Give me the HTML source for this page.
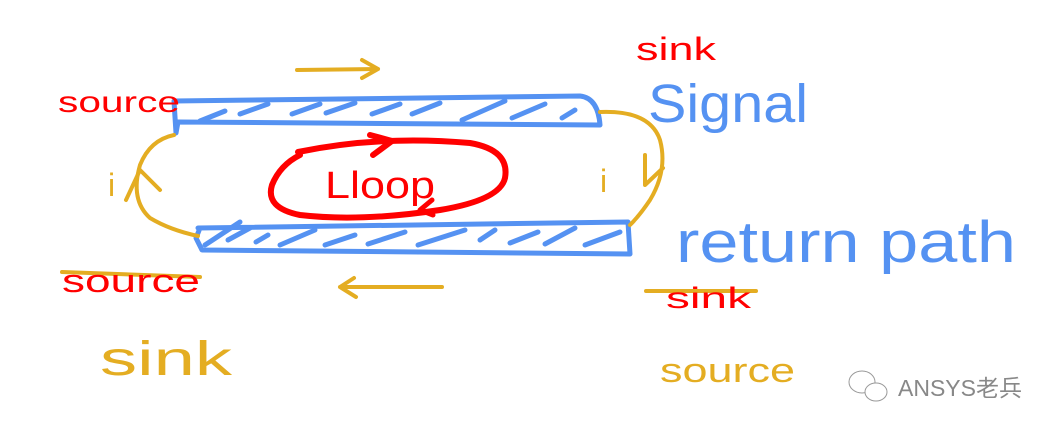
<!DOCTYPE html>
<html><head><meta charset="utf-8"><style>
html,body{margin:0;padding:0;background:#fff;}
svg{display:block;}
.h{font-family:"Liberation Sans","DejaVu Sans",sans-serif;}
</style></head><body>
<svg width="1064" height="436" viewBox="0 0 1064 436" xmlns="http://www.w3.org/2000/svg">
<g fill="none" stroke-linecap="round" stroke-linejoin="round">
<path d="M174 101 L580 96 Q598 98 600 125 L178 122 L176 133 L174 101" stroke="#5592f2" stroke-width="5"/>
<g stroke="#5592f2" stroke-width="5">
<path d="M200 121 L225 111"/><path d="M240 114 L268 104"/><path d="M292 114 L320 104"/><path d="M326 113 L355 103"/><path d="M372 114 L400 104"/><path d="M412 114 L440 103"/><path d="M462 120 L505 101"/><path d="M512 118 L545 104"/><path d="M562 118 L575 110"/>
</g>
<path d="M198 228 L628 222 L630 254 L202 250 L196 238 L200 228" stroke="#5592f2" stroke-width="5"/>
<g stroke="#5592f2" stroke-width="5">
<path d="M205 245 L240 222"/><path d="M228 240 L250 228"/><path d="M256 242 L268 235"/><path d="M280 245 L315 230"/><path d="M325 245 L355 235"/><path d="M368 244 L405 232"/><path d="M418 245 L465 230"/><path d="M480 240 L495 230"/><path d="M510 243 L538 232"/><path d="M545 244 L575 228"/><path d="M585 245 L620 232"/>
</g>
<path d="M298 152 Q380 135 470 143 Q510 150 505 178 Q500 200 440 210 Q360 222 300 215 Q265 208 272 185 Q280 165 300 155" stroke="#f00" stroke-width="6"/>
<path d="M370 135 L392 141 L373 155" stroke="#f00" stroke-width="6"/>
<path d="M432 200 L420 210 L433 215" stroke="#f00" stroke-width="5"/>
<g stroke="#e4ad22" stroke-width="4">
<path d="M174 135 Q150 140 140 165 Q130 200 150 218 Q170 230 198 236"/>
<path d="M600 112 Q650 110 660 140 Q668 170 650 200 Q640 215 630 225"/>
<path d="M126 200 L140 170 L160 190"/>
<path d="M645 155 L645 185 L663 168"/>
<path d="M297 70 L378 69 M362 60 L378 69 L362 78"/>
<path d="M340 287 L442 287 M354 278 L340 287 L356 297"/>
<path d="M62 272 L200 277"/>
<path d="M646 291 L756 291"/>
</g>
</g>
<g class="h">
<text x="325" y="198" font-size="38" textLength="110" lengthAdjust="spacingAndGlyphs" fill="#f00">Lloop</text>
<text x="58" y="112" font-size="30" textLength="122" lengthAdjust="spacingAndGlyphs" fill="#f00">source</text>
<text x="636" y="60" font-size="32" textLength="80" lengthAdjust="spacingAndGlyphs" fill="#f00">sink</text>
<text x="62" y="292" font-size="32" textLength="138" lengthAdjust="spacingAndGlyphs" fill="#f00">source</text>
<text x="666" y="308" font-size="30" textLength="85" lengthAdjust="spacingAndGlyphs" fill="#f00">sink</text>
<text x="648" y="122" font-size="54" textLength="160" lengthAdjust="spacingAndGlyphs" fill="#5592f2">Signal</text>
<text x="676" y="262" font-size="58" textLength="340" lengthAdjust="spacingAndGlyphs" fill="#5592f2">return path</text>
<text x="100" y="375" font-size="48" textLength="132" lengthAdjust="spacingAndGlyphs" fill="#e4ad22">sink</text>
<text x="660" y="382" font-size="34" textLength="135" lengthAdjust="spacingAndGlyphs" fill="#e4ad22">source</text>
<text x="108" y="196" font-size="32" fill="#e4ad22">i</text>
<text x="600" y="192" font-size="32" fill="#e4ad22">i</text>
<text x="898" y="396" font-size="23" fill="#888" font-family="'Liberation Sans','Noto Sans CJK SC',sans-serif">ANSYS老兵</text>
</g>
<g fill="#fff" stroke="#999" stroke-width="1">
<ellipse cx="862" cy="382" rx="13" ry="11"/>
<ellipse cx="876" cy="392" rx="11" ry="9"/>
</g>
</svg>
</body></html>
